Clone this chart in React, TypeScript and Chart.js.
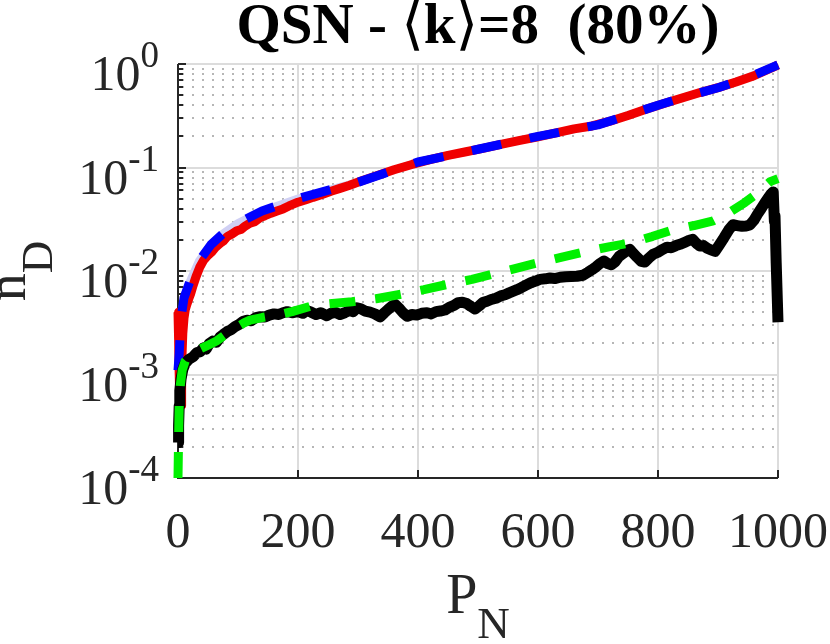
import { useEffect, useRef } from 'react';
import { Chart, registerables } from 'chart.js';

Chart.register(...registerables);

// ---- data ----
const theoryX = [0, 2, 5, 10, 20, 35, 55, 75, 100, 140, 200, 270, 300, 400, 500, 600, 700, 750, 800, 850, 900, 950, 1000];
const theoryY = [1.1e-3, 1.6e-3, 3.5e-3, 5.5e-3, 8e-3, 0.0125, 0.018, 0.023, 0.029, 0.038, 0.05, 0.065, 0.072, 0.113, 0.15, 0.2, 0.258, 0.32, 0.4, 0.49, 0.59, 0.74, 0.98];

const redX = [0, 1, 2, 3, 5, 6, 8, 10, 12, 15, 18, 21, 25, 30, 36, 43, 50, 56, 62, 70, 76, 82, 90, 98, 105, 112, 120, 128, 137, 145, 155, 165, 175, 185, 200, 212, 225, 240, 255, 270, 285, 304, 330, 360, 390, 420, 450, 480, 510, 540, 570, 600, 630, 660, 690, 720, 750, 780, 810, 840, 870, 900, 930, 960, 990, 1000];
const redY = [4.0e-3, 2.2e-3, 1.0e-3, 6e-4, 5e-4, 1.2e-3, 2.5e-3, 3.5e-3, 4.2e-3, 4.8e-3, 5.4e-3, 6.0e-3, 7.2e-3, 8.8e-3, 0.0108, 0.0128, 0.0142, 0.0152, 0.0168, 0.0185, 0.0196, 0.0215, 0.0228, 0.0245, 0.0252, 0.0272, 0.029, 0.03, 0.0328, 0.0342, 0.0362, 0.038, 0.0398, 0.0425, 0.0462, 0.0485, 0.0515, 0.0548, 0.059, 0.0628, 0.067, 0.0735, 0.083, 0.095, 0.107, 0.119, 0.131, 0.142, 0.154, 0.168, 0.183, 0.198, 0.216, 0.236, 0.252, 0.28, 0.318, 0.365, 0.415, 0.47, 0.53, 0.59, 0.67, 0.77, 0.92, 0.98];

const blackX = [0, 1, 2, 3, 5, 8, 12, 18, 25, 31, 37, 42, 47, 52, 58, 64, 70, 76, 82, 88, 95, 102, 108, 115, 122, 130, 137, 145, 152, 160, 168, 175, 182, 190, 200, 208, 215, 222, 230, 238, 248, 255, 262, 270, 278, 285, 292, 298, 305, 312, 320, 328, 337, 344, 350, 356, 362, 368, 375, 382, 390, 398, 406, 415, 422, 430, 437, 445, 452, 460, 467, 474, 481, 488, 495, 502, 508, 515, 522, 530, 538, 545, 552, 558, 565, 572, 580, 588, 596, 603, 612, 620, 628, 637, 646, 655, 665, 675, 683, 690, 697, 703, 710, 716, 722, 728, 735, 742, 748, 753, 758, 765, 772, 778, 785, 792, 800, 808, 815, 822, 830, 838, 845, 852, 858, 864, 870, 876, 882, 888, 895, 902, 910, 918, 925, 932, 940, 947, 953, 960, 966, 972, 978, 984, 989, 992, 994, 995, 997, 999, 1000];
const blackY = [2.2e-4, 3.2e-4, 5.0e-4, 7.0e-4, 9.0e-4, 1.12e-3, 1.28e-3, 1.40e-3, 1.48e-3, 1.62e-3, 1.66e-3, 1.80e-3, 1.76e-3, 1.98e-3, 2.10e-3, 2.05e-3, 2.30e-3, 2.45e-3, 2.60e-3, 2.70e-3, 2.90e-3, 3.05e-3, 3.25e-3, 3.35e-3, 3.30e-3, 3.55e-3, 3.62e-3, 3.60e-3, 3.75e-3, 3.85e-3, 3.80e-3, 3.95e-3, 4.05e-3, 3.95e-3, 4.05e-3, 3.90e-3, 4.15e-3, 4.00e-3, 3.80e-3, 3.95e-3, 3.70e-3, 3.90e-3, 4.00e-3, 3.80e-3, 3.95e-3, 4.15e-3, 4.05e-3, 4.40e-3, 4.30e-3, 4.10e-3, 4.00e-3, 3.85e-3, 3.60e-3, 3.95e-3, 4.25e-3, 4.55e-3, 4.75e-3, 4.40e-3, 3.95e-3, 3.65e-3, 3.80e-3, 3.75e-3, 3.90e-3, 3.95e-3, 3.85e-3, 4.05e-3, 4.10e-3, 4.20e-3, 4.45e-3, 4.65e-3, 4.95e-3, 5.00e-3, 4.85e-3, 4.55e-3, 4.30e-3, 4.60e-3, 4.95e-3, 5.10e-3, 5.30e-3, 5.45e-3, 5.75e-3, 5.90e-3, 6.15e-3, 6.35e-3, 6.60e-3, 6.90e-3, 7.30e-3, 7.70e-3, 8.00e-3, 8.30e-3, 8.40e-3, 8.55e-3, 8.45e-3, 8.70e-3, 8.80e-3, 8.85e-3, 8.90e-3, 9.10e-3, 9.70e-3, 1.03e-2, 1.10e-2, 1.18e-2, 1.25e-2, 1.18e-2, 1.15e-2, 1.22e-2, 1.38e-2, 1.48e-2, 1.58e-2, 1.62e-2, 1.50e-2, 1.36e-2, 1.24e-2, 1.22e-2, 1.34e-2, 1.45e-2, 1.52e-2, 1.62e-2, 1.70e-2, 1.68e-2, 1.76e-2, 1.82e-2, 1.90e-2, 1.98e-2, 2.02e-2, 1.85e-2, 1.74e-2, 1.76e-2, 1.66e-2, 1.60e-2, 1.55e-2, 1.78e-2, 2.10e-2, 2.50e-2, 2.80e-2, 2.75e-2, 2.70e-2, 2.72e-2, 2.78e-2, 3.10e-2, 3.55e-2, 4.00e-2, 4.55e-2, 5.10e-2, 5.60e-2, 5.80e-2, 3.00e-2, 3.40e-2, 1.20e-2, 5.0e-3, 3.2e-3];

const greenX = [0, 1, 2, 4, 7, 12, 20, 33, 50, 65, 80, 95, 110, 120, 140, 165, 190, 220, 250, 290, 330, 367, 410, 448, 490, 523, 560, 600, 640, 682, 720, 753, 790, 823, 860, 892, 920, 945, 965, 987, 1000];
const greenY = [1.0e-4, 2.5e-4, 5.0e-4, 8.0e-4, 1.10e-3, 1.35e-3, 1.52e-3, 1.72e-3, 1.92e-3, 2.12e-3, 2.45e-3, 2.80e-3, 3.15e-3, 3.35e-3, 3.55e-3, 3.75e-3, 4.05e-3, 4.55e-3, 4.80e-3, 5.05e-3, 5.40e-3, 5.90e-3, 6.60e-3, 7.40e-3, 8.30e-3, 9.30e-3, 1.05e-2, 1.20e-2, 1.36e-2, 1.55e-2, 1.72e-2, 1.86e-2, 2.15e-2, 2.48e-2, 2.75e-2, 3.05e-2, 3.70e-2, 4.60e-2, 5.60e-2, 7.30e-2, 7.80e-2];

const xTicks = [0, 200, 400, 600, 800, 1000];
const xTickLabels = ['0', '200', '400', '600', '800', '1000'];
const yMajor = [1e-4, 1e-3, 1e-2, 1e-1, 1];
const yExponents = ['-4', '-3', '-2', '-1', '0'];
const yMinorMultipliers = [2, 3, 4, 5, 6, 7, 8, 9];

const titleParts: { text: string; bold: boolean; bracket?: boolean }[] = [
  { text: 'QSN - ', bold: true },
  { text: '\u27E8', bold: false, bracket: true },
  { text: 'k', bold: true },
  { text: '\u27E9', bold: false, bracket: true },
  { text: '=8  (80%)', bold: true },
];
const xLabelMain = 'P';
const xLabelSub = 'N';
const yLabelMain = 'n';
const yLabelSub = 'D';

const SERIF = '"Liberation Serif", "Times New Roman", serif';
const TEXT = '#262626';

const pts = (xs: number[], ys: number[]) => xs.map((x, i) => ({ x, y: ys[i] }));

const decorPlugin = {
  id: 'decor',
  beforeDatasetsDraw(chart: any) {
    const { ctx, chartArea: a, scales } = chart;
    const xs = scales.x;
    const ys = scales.y;
    ctx.save();
    ctx.strokeStyle = '#dcdcdc';
    ctx.lineWidth = 2;
    for (const v of yMajor) {
      if (v === yMajor[0]) continue;
      const py = Math.round(ys.getPixelForValue(v));
      ctx.beginPath();
      ctx.moveTo(a.left, py);
      ctx.lineTo(a.right, py);
      ctx.stroke();
    }
    for (const v of xTicks) {
      if (v === xTicks[0]) continue;
      const px = Math.round(xs.getPixelForValue(v));
      ctx.beginPath();
      ctx.moveTo(px, a.top);
      ctx.lineTo(px, a.bottom);
      ctx.stroke();
    }
    ctx.strokeStyle = 'rgb(182,182,182)';
    ctx.setLineDash([2, 8]);
    ctx.lineWidth = 2;
    for (let d = 0; d < yMajor.length - 1; d++) {
      for (const m of yMinorMultipliers) {
        const py = Math.round(ys.getPixelForValue(m * yMajor[d]));
        ctx.beginPath();
        ctx.moveTo(a.left + 4, py);
        ctx.lineTo(a.right, py);
        ctx.stroke();
      }
    }
    ctx.setLineDash([]);
    ctx.strokeStyle = TEXT;
    ctx.lineWidth = 2;
    ctx.beginPath();
    ctx.moveTo(a.left, a.top);
    ctx.lineTo(a.left, a.bottom);
    ctx.lineTo(a.right, a.bottom);
    ctx.stroke();
    for (const v of yMajor) {
      const py = Math.round(ys.getPixelForValue(v));
      ctx.beginPath();
      ctx.moveTo(a.left, py);
      ctx.lineTo(a.left + 8, py);
      ctx.stroke();
    }
    for (let d = 0; d < yMajor.length - 1; d++) {
      for (const m of yMinorMultipliers) {
        const py = Math.round(ys.getPixelForValue(m * yMajor[d]));
        ctx.beginPath();
        ctx.moveTo(a.left, py);
        ctx.lineTo(a.left + 5, py);
        ctx.stroke();
      }
    }
    for (const v of xTicks) {
      const px = Math.round(xs.getPixelForValue(v));
      ctx.beginPath();
      ctx.moveTo(px, a.bottom);
      ctx.lineTo(px, a.bottom - 8);
      ctx.stroke();
    }
    ctx.restore();
  },
  afterDraw(chart: any) {
    const { ctx, chartArea: a, scales } = chart;
    const xs = scales.x;
    const ys = scales.y;
    ctx.save();
    ctx.fillStyle = TEXT;
    ctx.textBaseline = 'alphabetic';
    ctx.font = `50px ${SERIF}`;
    ctx.textAlign = 'center';
    xTicks.forEach((v, i) => {
      ctx.fillText(xTickLabels[i], xs.getPixelForValue(v), 547);
    });
    ctx.textAlign = 'left';
    yMajor.forEach((v, i) => {
      const py = ys.getPixelForValue(v);
      ctx.font = `37px ${SERIF}`;
      const ew = ctx.measureText(yExponents[i]).width;
      ctx.font = `50px ${SERIF}`;
      const bw = ctx.measureText('10').width;
      const right = 159;
      ctx.fillText('10', right - ew - bw, py + 26);
      ctx.font = `37px ${SERIF}`;
      ctx.fillText(yExponents[i], right - ew, py + 3);
    });
    const cx = (a.left + a.right) / 2;
    ctx.font = `56px ${SERIF}`;
    const wP = ctx.measureText(xLabelMain).width;
    ctx.font = `45px ${SERIF}`;
    const wN = ctx.measureText(xLabelSub).width;
    const sx = cx - (wP + wN) / 2;
    ctx.font = `56px ${SERIF}`;
    ctx.fillText(xLabelMain, sx, 613);
    ctx.font = `45px ${SERIF}`;
    ctx.fillText(xLabelSub, sx + wP, 638);
    const cy = (a.top + a.bottom) / 2;
    ctx.font = `56px ${SERIF}`;
    const wn = ctx.measureText(yLabelMain).width;
    ctx.font = `45px ${SERIF}`;
    const wD = ctx.measureText(yLabelSub).width;
    ctx.translate(25, 0);
    ctx.rotate(-Math.PI / 2);
    const S = cy + (wn + wD) / 2;
    ctx.font = `56px ${SERIF}`;
    ctx.fillText(yLabelMain, -S, 0);
    ctx.font = `45px ${SERIF}`;
    ctx.fillText(yLabelSub, -S + wn, 27);
    ctx.setTransform(1, 0, 0, 1, 0, 0);
    const fontOf = (p: { bold: boolean; bracket?: boolean }) =>
      p.bracket ? `58px "DejaVu Sans", "DejaVu Serif", sans-serif` : `${p.bold ? 'bold ' : ''}57px ${SERIF}`;
    let total = 0;
    const widths = titleParts.map((p) => {
      ctx.font = fontOf(p);
      const w = ctx.measureText(p.text).width;
      total += w;
      return w;
    });
    let tx = cx - total / 2;
    ctx.fillStyle = '#000';
    titleParts.forEach((p, i) => {
      ctx.font = fontOf(p);
      ctx.fillText(p.text, tx, 43);
      tx += widths[i];
    });
    ctx.restore();
  },
};

export default function App() {
  const ref = useRef<HTMLCanvasElement | null>(null);
  useEffect(() => {
    if (!ref.current) return;
    const common = { pointRadius: 0, fill: false, tension: 0, borderCapStyle: 'butt', borderJoinStyle: 'round', clip: 10 } as any;
    const chart = new Chart(ref.current, {
      type: 'line',
      data: {
        datasets: [
          { ...common, label: 'band', data: pts(theoryX, theoryY), borderColor: 'rgb(208,208,244)', borderWidth: 8, order: 5 },
          { ...common, label: 'sim', data: pts(redX, redY), borderColor: '#f00000', borderWidth: 9, order: 4 },
          { ...common, label: 'theory', data: pts(theoryX, theoryY), borderColor: '#0000ff', borderWidth: 9, borderDash: [30, 29], order: 3 },
          { ...common, label: 'sim2', data: pts(blackX, blackY), borderColor: '#000000', borderWidth: 11, order: 2 },
          { ...common, label: 'theory2', data: pts(greenX, greenY), borderColor: '#00f000', borderWidth: 9, borderDash: [26, 20], order: 1 },
        ],
      },
      options: {
        responsive: false,
        animation: false,
        events: [],
        devicePixelRatio: 1,
        layout: { padding: { left: 0, right: 52, top: 64, bottom: 0 } },
        plugins: { legend: { display: false }, tooltip: { enabled: false }, title: { display: false } },
        scales: {
          x: {
            type: 'linear',
            min: 0,
            max: 1000,
            ticks: { display: false, stepSize: 200 },
            grid: { display: false },
            border: { display: false },
            afterFit: (s: any) => { s.height = 166; },
          },
          y: {
            type: 'logarithmic',
            min: 1e-4,
            max: 1,
            ticks: { display: false },
            grid: { display: false },
            border: { display: false },
            afterFit: (s: any) => { s.width = 178; },
          },
        },
      } as any,
      plugins: [decorPlugin],
    });
    return () => chart.destroy();
  }, []);
  return (
    <div style={{ position: 'fixed', left: 0, top: 0, width: 830, height: 644, background: '#fff' }}>
      <canvas ref={ref} width={830} height={644} style={{ width: 830, height: 644, display: 'block' }} />
    </div>
  );
}
